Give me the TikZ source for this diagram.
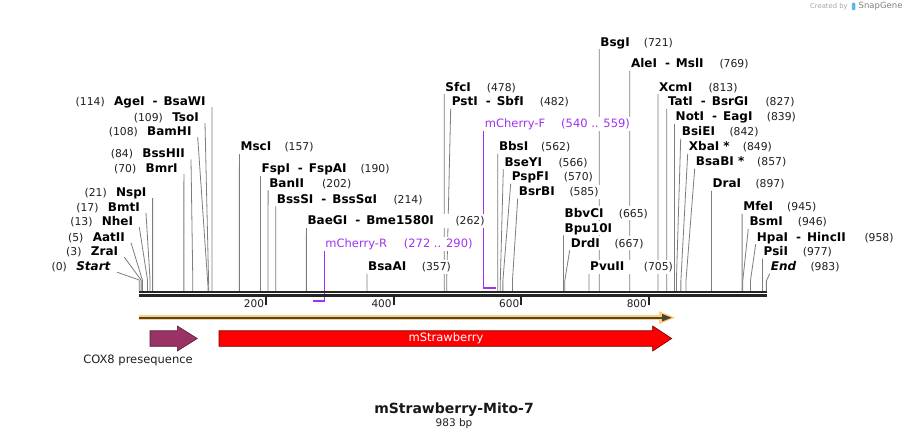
\documentclass[tikz,border=0pt]{standalone}
\usepackage{fontspec}
\setmainfont{DejaVu Sans}
\usetikzlibrary{calc}
\pgfdeclarelayer{bgwhite}
\pgfdeclarelayer{leaders}
\pgfdeclarelayer{boxes}
\pgfsetlayers{bgwhite,leaders,boxes,main}
\definecolor{leadgray}{RGB}{125,125,125}
\definecolor{primerpurple}{RGB}{160,50,240}
\definecolor{maplinec}{RGB}{36,36,36}
\definecolor{orangeband}{RGB}{255,208,128}
\definecolor{orangedark}{RGB}{78,68,50}
\definecolor{coxc}{RGB}{153,51,102}
\definecolor{redc}{RGB}{255,0,0}
\definecolor{logoblue}{RGB}{95,180,232}
\tikzset{
  ename/.style={font=\fontsize{12}{14}\selectfont\bfseries, inner sep=1pt, text height=9.5pt, text depth=2pt},
  enum/.style={font=\fontsize{10.8}{13}\selectfont, text=black!88, inner sep=1pt, text height=9.5pt, text depth=2pt},
  pname/.style={font=\fontsize{11.5}{14}\selectfont, text=primerpurple, inner sep=1pt, text height=9.5pt, text depth=2pt},
  leader/.style={draw=leadgray, line width=0.8pt},
  ticklab/.style={font=\fontsize{10.5}{12}\selectfont, text=black!88, inner sep=0pt},
  featlab/.style={font=\fontsize{11.5}{13}\selectfont, text=black!88, inner sep=0pt},
}
\newcommand\enzdash{\hspace{8pt}-\hspace{6pt}}
% right-side label: id, bp, x, y, numx, name, num
\newcommand\Renz[7]{%
  \node[ename,anchor=west] (#1) at (#3,#4) {#6};
  \node[enum,anchor=west] (#1n) at (#5,#4) {#7};
  \coordinate (#1k) at ({139.2+0.638*#2},281);
  \coordinate (#1m) at ({139.2+0.638*#2},291);
  \begin{pgfonlayer}{boxes}\fill[white] (#1.south west) rectangle (#1n.north east);\end{pgfonlayer}
  \begin{pgfonlayer}{leaders}\draw[leader] (#1.south west) -- (#1k) -- (#1m);\end{pgfonlayer}
}
% right-side label without its own line
\newcommand\Rnoline[5]{%
  \node[ename,anchor=west] (#1) at (#2,#3) {#5};
  \node[enum,anchor=west] (#1n) at (#4,#3) {(665)};
  \begin{pgfonlayer}{boxes}\fill[white] (#1.south west) rectangle (#1n.north east);\end{pgfonlayer}
}
% right-side name only with line: id, bp, x, y, name
\newcommand\Ronly[5]{%
  \node[ename,anchor=west] (#1) at (#3,#4) {#5};
  \coordinate (#1m) at ({139.2+0.638*#2},291);
  \begin{pgfonlayer}{boxes}\fill[white] (#1.south west) rectangle (#1.north east);\end{pgfonlayer}
  \begin{pgfonlayer}{leaders}\draw[leader] (#1.south west) -- (#1m);\end{pgfonlayer}
}
% left-side label: id, bp, name right x, y, name, num, knee y
\newcommand\Lenz[7]{%
  \node[ename,anchor=east] (#1) at (#3,#4) {#5};
  \node[enum,anchor=east] (#1n) at ([xshift=-7pt]#1.west) {#6};
  \coordinate (#1s) at ($(#1.east)+(5,5.5)$);
  \coordinate (#1k) at ({139.2+0.638*#2},#7);
  \coordinate (#1m) at ({139.2+0.638*#2},291);
  \begin{pgfonlayer}{boxes}\fill[white] (#1n.south west) rectangle (#1.north east);\end{pgfonlayer}
  \begin{pgfonlayer}{leaders}\draw[leader] (#1s) -- (#1k) -- (#1m);\end{pgfonlayer}
}
\begin{document}
\begin{tikzpicture}[x=1pt,y=-1pt]
\useasboundingbox (0,0) rectangle (907,441);
\begin{pgfonlayer}{bgwhite}\fill[white] (0,0) rectangle (907,441);\end{pgfonlayer}

% ---------- left labels ----------
\Lenz{start}{0}{112}{266.7}{\textit{Start}}{(0)}{280}
\Lenz{zra}{3}{119.3}{251.7}{ZraI}{(3)}{280}
\Lenz{aat}{5}{126}{237.3}{AatII}{(5)}{280}
\Lenz{nhe}{13}{134.3}{221.7}{NheI}{(13)}{280}
\Lenz{bmt}{17}{141}{207.3}{BmtI}{(17)}{280}
\Lenz{nsp}{21}{147.6}{192.7}{NspI}{(21)}{280}
\Lenz{bmr}{70}{178.9}{168.3}{BmrI}{(70)}{280}
\Lenz{bsh}{84}{186}{154}{BssHII}{(84)}{280}
\Lenz{bam}{108}{192.7}{131.7}{BamHI}{(108)}{288}
\Lenz{tso}{109}{200}{117.3}{TsoI}{(109)}{288}
\Lenz{age}{114}{206.9}{101.7}{AgeI\enzdash BsaWI}{(114)}{288}

% ---------- right labels ----------
\Renz{msc}{157}{239.4}{146.7}{283.3}{MscI}{(157)}
\Renz{fsp}{190}{260.4}{169}{359.3}{FspI\enzdash FspAI}{(190)}
\Renz{ban}{202}{268.1}{183.3}{321}{BanII}{(202)}
\Renz{bsss}{214}{275.7}{199.3}{392.3}{BssSI\enzdash BssSαI}{(214)}
\Renz{bae}{262}{306.4}{221}{454.3}{BaeGI\enzdash Bme1580I}{(262)}
\Renz{bsaa}{357}{367}{266.7}{420.7}{BsaAI}{(357)}
\Renz{sfc}{478}{444.2}{87.3}{485.7}{SfcI}{(478)}
\Renz{pst}{482}{450.7}{101.7}{538.7}{PstI\enzdash SbfI}{(482)}
\Renz{bbs}{562}{497.8}{146.7}{540}{BbsI}{(562)}
\Renz{bsey}{566}{503.3}{162.3}{557.3}{BseYI}{(566)}
\Renz{pspf}{570}{510.7}{176.7}{562.7}{PspFI}{(570)}
\Renz{bsrb}{585}{517.7}{191.7}{568.3}{BsrBI}{(585)}
\Rnoline{bbvc}{563.5}{213.3}{617.7}{BbvCI}
\Ronly{bpu}{665}{563.5}{228.3}{Bpu10I}
\Renz{drd}{667}{569.7}{243.3}{613.3}{DrdI}{(667)}
\Renz{pvu}{705}{589}{266.7}{642.7}{PvuII}{(705)}
\Renz{bsg}{721}{599.2}{42.3}{642.7}{BsgI}{(721)}
\Renz{ale}{769}{629.8}{63.7}{718.3}{AleI\enzdash MslI}{(769)}
\Renz{xcm}{813}{657.9}{87.3}{707.3}{XcmI}{(813)}
\Renz{tat}{827}{666.8}{101.7}{764.3}{TatI\enzdash BsrGI}{(827)}
\Renz{noti}{839}{674.5}{117}{765.7}{NotI\enzdash EagI}{(839)}
\Renz{bsie}{842}{680.7}{131.7}{728.3}{BsiEI}{(842)}
\Renz{xba}{849}{687.7}{146.7}{741.7}{XbaI *}{(849)}
\Renz{bsab}{857}{694.7}{161.7}{756}{BsaBI *}{(857)}
\Renz{dra}{897}{711.5}{184}{754.3}{DraI}{(897)}
\Renz{mfe}{945}{742.1}{206.7}{786}{MfeI}{(945)}
\Renz{bsm}{946}{748.3}{221.7}{796.7}{BsmI}{(946)}
\Renz{hpa}{958}{755.7}{237.3}{863.3}{HpaI\enzdash HincII}{(958)}
\Renz{psi}{977}{762.5}{251.7}{801.7}{PsiI}{(977)}
\Renz{endl}{983}{769.7}{266.7}{809.3}{\textit{End}}{(983)}

% ---------- primers ----------
\node[pname,anchor=west] (mcr) at ({139.2+0.638*290},244) {mCherry-R};
\node[pname,anchor=west] (mcrn) at (402.7,244) {(272 .. 290)};
\coordinate (mcra) at ({139.2+0.638*272},300.7);
\coordinate (mcrb) at ({139.2+0.638*290},300.7);
\begin{pgfonlayer}{boxes}\fill[white] (mcr.south west) rectangle (mcrn.north east);\end{pgfonlayer}
\begin{pgfonlayer}{leaders}
  \draw[primerpurple, line width=1.2pt] (mcr.south west) -- (mcrb);
  \draw[primerpurple, line width=2pt] (mcra) -- ([xshift=0.6pt]mcrb);
\end{pgfonlayer}
\node[pname,anchor=west] (mcf) at ({139.2+0.638*540},124) {mCherry-F};
\node[pname,anchor=west] (mcfn) at (560,124) {(540 .. 559)};
\coordinate (mcfa) at ({139.2+0.638*540},287.7);
\coordinate (mcfb) at ({139.2+0.638*559},287.7);
\begin{pgfonlayer}{boxes}\fill[white] (mcf.south west) rectangle (mcfn.north east);\end{pgfonlayer}
\begin{pgfonlayer}{leaders}
  \draw[primerpurple, line width=1.2pt] (mcf.south west) -- (mcfa);
  \draw[primerpurple, line width=2pt] ([xshift=-0.6pt]mcfa) -- (mcfb);
\end{pgfonlayer}

% ---------- map ----------
\coordinate (mapL1) at (139,292.1); \coordinate (mapR1) at (767,292.1);
\coordinate (mapL2) at (139,295.6); \coordinate (mapR2) at (767,295.6);
\draw[maplinec, line width=2.4pt] (mapL1) -- (mapR1);
\draw[maplinec, line width=2.4pt] (mapL2) -- (mapR2);
\foreach \t in {200,400,600,800}{
  \draw[maplinec, line width=2pt] ({139.2+0.638*\t-0.6},296.5) -- ({139.2+0.638*\t-0.6},304.5);
  \node[ticklab,anchor=east] (tick\t) at ({139.2+0.638*\t-2.6},303.5) {\t};
}

% ---------- features ----------
\coordinate (oL) at (139,317.7);
\coordinate (oR) at (662,317.7);
\draw[orangeband, line width=5.5pt] (oL) -- (oR);
\fill[orangeband] (659,311.2) -- (675,317.7) -- (659,324.2) -- cycle;
\draw[orangedark, line width=1.6pt] (oL) -- (663,317.7);
\fill[orangedark] (662,313.9) -- (671.7,317.7) -- (662,321.5) -- cycle;

\filldraw[fill=coxc, draw=coxc!55!black, line width=0.6pt]
  (150,330.75) -- (177.3,330.75) -- (177.3,326) -- (197.3,338.5) -- (177.3,351)
  -- (177.3,346.25) -- (150,346.25) -- cycle;
\node[featlab] (coxlab) at (138,360) {COX8 presequence};

\filldraw[fill=redc, draw=redc!45!black, line width=0.6pt]
  (219,330.75) -- (652.7,330.75) -- (652.7,326) -- (671.7,338.5) -- (652.7,351)
  -- (652.7,346.25) -- (219,346.25) -- cycle;
\node[featlab, text=white] (mslab) at (446,338.5) {mStrawberry};

% ---------- title ----------
\node[font=\fontsize{14}{16}\selectfont\bfseries, text=black!90, inner sep=0pt] (title) at (454,410) {mStrawberry-Mito-7};
\node[font=\fontsize{10.5}{12}\selectfont, text=black!88, inner sep=0pt] (bplab) at (454,423.5) {983 bp};

% ---------- watermark ----------
\node[font=\fontsize{6.8}{8}\selectfont, text=black!35, anchor=west, inner sep=0pt] (cby) at (810,6.5) {Created by};
\node[fill=logoblue, minimum width=3.5pt, minimum height=7.5pt, inner sep=0pt, rounded corners=1pt] (logo) at (853.5,6.5) {};
\node[font=\fontsize{8.5}{10}\selectfont, text=black!50, anchor=west, inner sep=0pt] (sgn) at (858.5,6.5) {SnapGene};
\end{tikzpicture}
\end{document}
